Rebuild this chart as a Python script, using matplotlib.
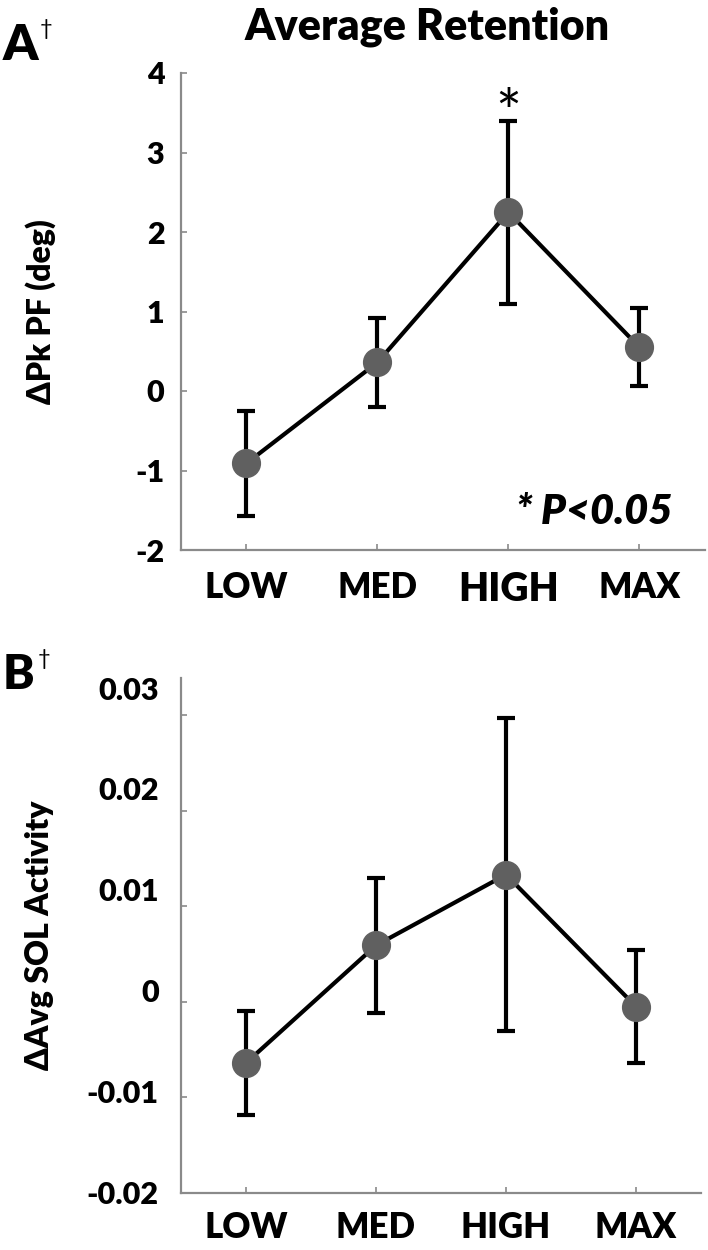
import matplotlib
matplotlib.use("Agg")
import matplotlib.pyplot as plt

plt.rcParams['font.family'] = ['Lato', 'DejaVu Sans']

levels = ['LOW', 'MED', 'HIGH', 'MAX']
xpos = [1, 2, 3, 4]

# panel A: change in peak plantarflexion (deg)
pk_mean = [-0.91, 0.36, 2.25, 0.55]
pk_err = [0.66, 0.56, 1.15, 0.49]
a_ticks = [-2, -1, 0, 1, 2, 3, 4]
a_labels = ['-2', '-1', '0', '1', '2', '3', '4']

# panel B: change in average SOL activity
sol_mean = [-0.0064, 0.0059, 0.0133, -0.0005]
sol_err = [0.0054, 0.0071, 0.0164, 0.0059]
b_ticks = [-0.02, -0.01, 0.0, 0.01, 0.02, 0.03]
b_labels = ['-0.02', '-0.01', '0', '0.01', '0.02', '0.03']

AX_GREY = '#8a8a8a'
DOT = '#606060'
W = 'heavy'


def style_axis(ax):
    for s in ['top', 'right']:
        ax.spines[s].set_visible(False)
    for s in ['left', 'bottom']:
        ax.spines[s].set_color(AX_GREY)
        ax.spines[s].set_linewidth(1.6)
    ax.tick_params(axis='both', direction='in', length=4, width=1.2, color=AX_GREY)
    ax.set_xlim(0.5, 4.5)
    ax.set_xticks(xpos)


def draw_series(ax, mean, err):
    ax.plot(xpos, mean, color='black', lw=3.0, zorder=2)
    ax.errorbar(xpos, mean, yerr=err, fmt='none', ecolor='black',
                elinewidth=3.0, capsize=6.5, capthick=3.0, zorder=3)
    ax.plot(xpos, mean, 'o', color=DOT, ms=20, mec=DOT, zorder=4)


fig = plt.figure(figsize=(7.08, 12.5), dpi=100)

# ---- A ----
axA = fig.add_axes([0.2556, 0.56, 0.740, 0.3816])
style_axis(axA)
draw_series(axA, pk_mean, pk_err)
axA.set_ylim(-2, 4)
axA.set_yticks(a_ticks)
axA.set_yticklabels(a_labels, fontsize=22, fontweight=W)
axA.tick_params(axis='y', pad=12)
axA.set_xticklabels(levels, fontsize=25, fontweight=W)
axA.get_xticklabels()[2].set_fontsize(28)
axA.tick_params(axis='x', pad=15)
axA.set_ylabel('ΔPk PF (deg)', fontsize=23, fontweight=W)
axA.yaxis.set_label_coords(-0.238, 0.5)
axA.text(3, pk_mean[2] + pk_err[2] - 0.3, '*', ha='center', va='bottom', fontsize=44)
axA.text(0.937, 0.04, '* P<0.05', transform=axA.transAxes, ha='right', va='bottom',
         fontsize=30, fontweight=W, fontstyle='italic')
axA.set_title('Average Retention', fontsize=31, fontweight=W, pad=24, x=0.47)

fig.text(0.004, 0.952, 'A', fontsize=36, fontweight=W, ha='left', va='baseline')
fig.text(0.056, 0.972, '†', fontsize=16, ha='left', va='baseline')

# ---- B ----
axB = fig.add_axes([0.2556, 0.0456, 0.7345, 0.412])
style_axis(axB)
draw_series(axB, sol_mean, sol_err)
axB.set_ylim(-0.02, 0.03387)
axB.set_yticks(b_ticks)
axB.set_yticklabels([])
axB.set_xticklabels(levels, fontsize=25, fontweight=W)
axB.tick_params(axis='x', pad=13)
axB.set_ylabel('ΔAvg SOL Activity', fontsize=23, fontweight=W)
axB.yaxis.set_label_coords(-0.245, 0.5)

# the printed labels sit on a slightly stretched scale relative to the tick marks
sa, sb = 1.054, 0.00118
sec = axB.secondary_yaxis('left', functions=(lambda v: (v - sb) / sa, lambda v: sa * v + sb))
sec.set_yticks(b_ticks)
sec.set_yticklabels(b_labels, fontsize=22, fontweight=W)
sec.tick_params(axis='y', length=0, pad=16)
sec.spines['left'].set_visible(False)

fig.text(0.004, 0.449, 'B', fontsize=34, fontweight=W, ha='left', va='baseline')
fig.text(0.054, 0.468, '†', fontsize=16, ha='left', va='baseline')

fig.savefig('out.png', dpi=100)
